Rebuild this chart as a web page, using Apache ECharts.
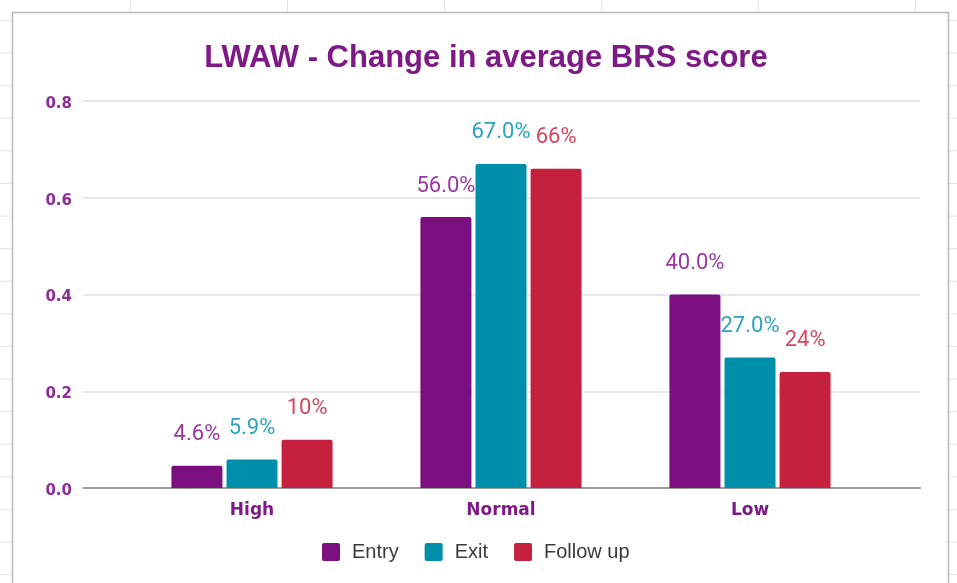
<!DOCTYPE html>
<html>
<head>
<meta charset="utf-8">
<script src="https://cdn.jsdelivr.net/npm/echarts@6/dist/echarts.min.js"></script>
<style>
    html, body {
        margin: 0;
        padding: 0;
    }
    body {
        width: 957px;
        height: 583px;
        overflow: hidden;
        background-color: #fff;
        /* spreadsheet cells behind the chart */
        background-image: linear-gradient(to right, #e3e3e3 1px, transparent 1px),
                          linear-gradient(to bottom, #e3e3e3 1px, transparent 1px);
        background-size: 157px 100%, 100% 32.6px;
        background-position: 130px 0, 0 20px;
    }
    #chart {
        width: 957px;
        height: 583px;
    }
</style>
</head>
<body>
<div id="chart"></div>
<script>
    var categories = ['High', 'Normal', 'Low'];
    var seriesNames = ['Entry', 'Exit', 'Follow up'];
    var entryValues = [0.046, 0.56, 0.40];
    var exitValues = [0.059, 0.67, 0.27];
    var followUpValues = [0.10, 0.66, 0.24];
    // decimals shown in the percent labels of each series
    var labelDecimals = [1, 1, 0];

    var barColors = ['#7b0f80', '#008fab', '#c5213f'],
        labelColors = ['#9a3aa0', '#2ca4be', '#d4495f'],
        purple = '#7d1a85';

    var myChart = echarts.init(document.getElementById('chart'));

    function makeSeries(i, values) {
        return {
            name: seriesNames[i],
            type: 'bar',
            xAxisIndex: 1,
            yAxisIndex: 1,
            data: values,
            barWidth: 51,
            barGap: '8%',
            itemStyle: {
                color: barColors[i],
                borderRadius: [2, 2, 0, 0]
            },
            label: {
                show: true,
                position: 'top',
                distance: 20,
                color: labelColors[i],
                fontFamily: 'Roboto',
                fontSize: 22,
                formatter: function (p) {
                    return (p.value * 100).toFixed(labelDecimals[i]) + '%';
                }
            }
        };
    }

    var option = {
        animation: false,
        graphic: [
            {
                type: 'rect',
                z: -10,
                shape: {x: 12.5, y: 12.5, width: 936, height: 620},
                style: {fill: '#fff', stroke: '#b8b8b8', lineWidth: 1.5}
            }
        ],
        title: {
            text: 'LWAW - Change in average BRS score',
            left: 481,
            textAlign: 'center',
            top: 38,
            textStyle: {
                fontFamily: 'Liberation Sans',
                fontWeight: 'bold',
                fontSize: 31,
                color: purple
            }
        },
        legend: {
            data: seriesNames,
            left: 317,
            top: 537,
            icon: 'path://M2,0H16A2,2 0 0 1 18,2V16A2,2 0 0 1 16,18H2A2,2 0 0 1 0,16V2A2,2 0 0 1 2,0Z',
            itemWidth: 18,
            itemHeight: 18,
            itemGap: 26,
            textStyle: {
                fontFamily: 'Liberation Sans',
                fontSize: 20,
                color: '#3a3a3a',
                padding: [0, 0, 0, 7]
            }
        },
        grid: [
            {left: 83, right: 37, top: 101, bottom: 95},
            {left: 127.5, right: 82.5, top: 101, bottom: 95}
        ],
        xAxis: [
            {
                type: 'category',
                gridIndex: 0,
                data: categories,
                axisLine: {lineStyle: {color: '#9e9e9e', width: 2}},
                axisTick: {show: false},
                axisLabel: {show: false}
            },
            {
                type: 'category',
                gridIndex: 1,
                data: categories,
                axisLine: {show: false},
                axisTick: {show: false},
                axisLabel: {
                    margin: 14,
                    color: purple,
                    fontFamily: 'DejaVu Sans',
                    fontWeight: 'bold',
                    fontSize: 17
                }
            }
        ],
        yAxis: [
            {
                type: 'value',
                gridIndex: 0,
                min: 0,
                max: 0.8,
                interval: 0.2,
                axisLine: {show: false},
                axisTick: {show: false},
                splitLine: {lineStyle: {color: '#e0e0e0', width: 1.5}},
                axisLabel: {
                    margin: 11,
                    formatter: function (v) {
                        return '{t|' + v.toFixed(1) + '}';
                    },
                    rich: {
                        t: {
                            padding: [6, 0, 0, 0],
                            color: '#8e2c98',
                            fontFamily: 'DejaVu Sans',
                            fontWeight: 'bold',
                            fontSize: 15
                        }
                    }
                }
            },
            {
                type: 'value',
                gridIndex: 1,
                min: 0,
                max: 0.8,
                interval: 0.2,
                show: false,
                splitLine: {show: false}
            }
        ],
        series: [
            makeSeries(0, entryValues),
            makeSeries(1, exitValues),
            makeSeries(2, followUpValues)
        ]
    };

    myChart.setOption(option);
</script>
</body>
</html>
